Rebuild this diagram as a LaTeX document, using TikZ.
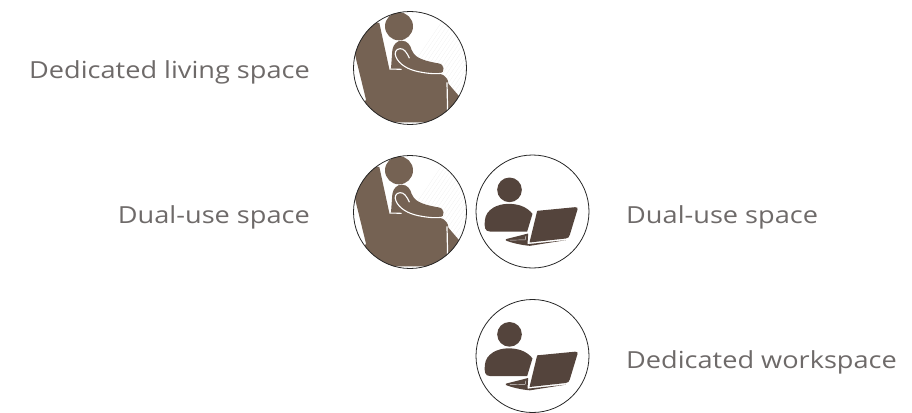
\documentclass[tikz,border=0pt]{standalone}
\usepackage{fontspec}
\setmainfont[FakeStretch=1.155]{Open Sans}
\definecolor{chair}{HTML}{756253}
\definecolor{dark}{HTML}{54443C}
\definecolor{txt}{HTML}{6E6A69}
\tikzset{
  label text/.style={text=txt,font=\fontsize{23.5}{27}\selectfont,inner sep=0pt},
  ring/.style={draw=black!85,line width=.8pt},
  chairpic/.pic={
    \begin{scope}[x=.3333pt,y=-.3333pt,shift={(-210,-205)}]
      \begin{scope}
        \clip (210,205) circle (170);
        \foreach \k in {0,12,...,340}{\draw[black!7,line width=.2pt] (100+\k,370) -- (330+\k,30);}
        \fill[chair] (118,70) -- (148,208) -- (153,206) -- (157,151) .. controls (160,133) and (172,123) .. (185,123) .. controls (203,123) and (212,138) .. (215,151) .. controls (222,168) and (235,181) .. (295,191) .. controls (315,193) and (315,219) .. (300,222) .. controls (318,228) and (325,240) .. (325,252) -- (362,295) -- (335,350) -- (262,368) -- (160,368) -- (90,345) -- (60,330) -- (78,300) -- (45,165) -- (30,150) -- (70,60) -- cycle;
        \fill[chair] (177,80) circle (42);
        \draw[white,line width=1.1pt] (148,208) -- (185,209);
        \draw[white,line width=1.2pt] (321,248) -- (323,340);
      \end{scope}
      \draw[white,line width=1.1pt,line cap=round] (208,175) .. controls (200,158) and (192,146) .. (180,147) .. controls (167,148) and (162,160) .. (168,172) .. controls (178,195) and (205,210) .. (235,216) .. controls (255,220) and (280,224) .. (305,221);
    \end{scope}
    \draw[ring] (0,0) circle (56.5);
  },
  laptoppic/.pic={
    \begin{scope}[x=.3333pt,y=-.3333pt,shift={(-208,-198)}]
      \fill[dark] (139,133) circle (37);
      \fill[dark] (80,258) .. controls (65,258) and (63,245) .. (65,225) .. controls (68,190) and (105,175) .. (135,175) .. controls (165,175) and (190,183) .. (208,205) -- (192,258) -- cycle;
      \fill[dark] (222,196) -- (336,185) .. controls (343,184) and (344,188) .. (343,192) -- (320,268) .. controls (318,275) and (315,278) .. (308,279) -- (199,291) -- cycle;
      \fill[dark] (128,281) -- (195,264) -- (193,296) -- (308,284) -- (200,301) .. controls (175,299) and (145,292) .. (128,285) -- cycle;
      \draw[white!80!dark,line width=.45pt] (140,284) -- (186,283) -- (188,272);
    \end{scope}
    \draw[ring] (0,0) circle (56.5);
  }
}
\begin{document}
\begin{tikzpicture}[x=1pt,y=-1pt]
\useasboundingbox (0,0) rectangle (912,412);
\pic at (410,68) {chairpic};
\pic at (410,212) {chairpic};
\pic at (532.5,211.5) {laptoppic};
\pic at (532.5,356) {laptoppic};
\node[label text,anchor=base east] (a) at (310,78) {Dedicated living space};
\node[label text,anchor=base east] (b) at (310,223) {Dual-use space};
\node[label text,anchor=base west] (c) at (626,223) {Dual-use space};
\node[label text,anchor=base west] (d) at (626,368) {Dedicated workspace};
\end{tikzpicture}
\end{document}
